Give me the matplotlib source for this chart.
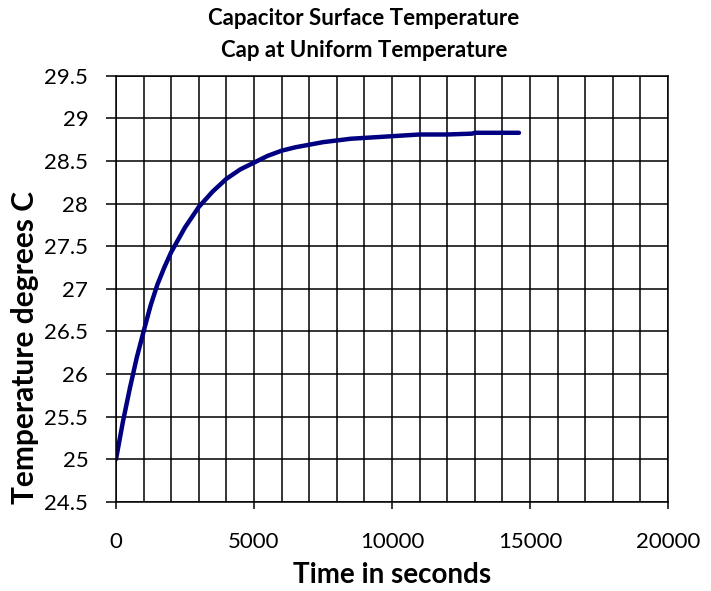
import matplotlib.pyplot as plt
from matplotlib.ticker import MultipleLocator

plt.rcParams["font.family"] = ["Lato", "DejaVu Sans"]

time_s = [0, 250, 500, 750, 1000, 1250, 1500, 1750, 2000, 2500, 3000, 3500,
          4000, 4500, 5000, 5500, 6000, 6500, 7000, 7500, 8000, 8500, 9000,
          9500, 10000, 10500, 11000, 12000, 12900, 13000, 14000, 14600]
temp_c = [25.00, 25.44, 25.83, 26.19, 26.50, 26.80, 27.05, 27.25, 27.43,
          27.72, 27.96, 28.14, 28.29, 28.40, 28.48, 28.56, 28.62, 28.66,
          28.69, 28.72, 28.74, 28.76, 28.77, 28.78, 28.79, 28.80, 28.81,
          28.81, 28.82, 28.83, 28.83, 28.83]

fig = plt.figure(figsize=(7.11, 5.91), dpi=100)
ax = fig.add_axes([0.1632, 0.1511, 0.7763, 0.7208])

ax.plot(time_s, temp_c, color="#000080", linewidth=3.2, solid_capstyle="round")

ax.set_xlim(0, 20000)
ax.set_ylim(24.5, 29.5)
ax.xaxis.set_major_locator(MultipleLocator(5000))
ax.xaxis.set_minor_locator(MultipleLocator(1000))
ax.yaxis.set_major_locator(MultipleLocator(0.5))
ax.yaxis.set_major_formatter(plt.FuncFormatter(lambda v, p: f"{v:g}"))

ax.grid(which="both", axis="x", color="black", linewidth=1.1)
ax.grid(which="major", axis="y", color="black", linewidth=1.1)
ax.set_axisbelow(True)
for s in ax.spines.values():
    s.set_color("black")
    s.set_linewidth(1.1)

ax.tick_params(axis="both", which="major", direction="out", width=1.1,
               labelsize=16, color="black")
ax.tick_params(axis="x", which="major", length=5, pad=17)
ax.tick_params(axis="y", which="major", length=7, pad=13)
ax.tick_params(axis="x", which="minor", length=0)

fig.text(0.551, 1 - 583 / 591, "Time in seconds", fontsize=20,
         fontweight="bold", ha="center", va="baseline")
fig.text(0.035, 0.412, "Temperature degrees C", fontsize=21.5,
         fontweight="bold", ha="center", va="center", rotation=90)
fig.text(0.512, 1 - 25 / 591, "Capacitor Surface Temperature", fontsize=16,
         fontweight="bold", ha="center", va="baseline")
fig.text(0.512, 1 - 57 / 591, "Cap at Uniform Temperature", fontsize=16,
         fontweight="bold", ha="center", va="baseline")

fig.savefig("out.png", dpi=100)
plt.close(fig)
